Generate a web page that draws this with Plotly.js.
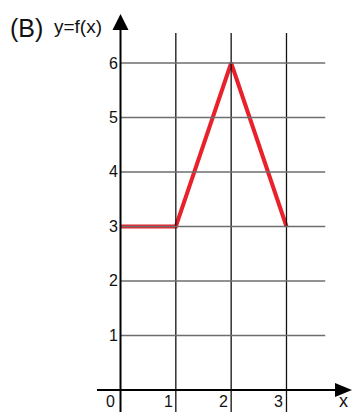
<!DOCTYPE html>
<html>
<head>
<meta charset="utf-8">
<script src="https://cdn.plot.ly/plotly-3.0.1.min.js"></script>
<style>
  body { margin: 0; background: #fff; }
  #chart { width: 352px; height: 412px; }
</style>
</head>
<body>
<div id="chart"></div>
<script>
// function values
const xVals = [0, 1, 2, 3];
const yVals = [3, 3, 6, 3];

// grid / tick labels
const xTicks = [0, 1, 2, 3];
const yTicks = [1, 2, 3, 4, 5, 6];
const xTickText = ['0', '1', '2', '3'];
const yTickText = ['1', '2', '3', '4', '5', '6'];

const gridTop = 6.55, gridRight = 3.70;
const axisLeft = -0.425, axisBottom = -0.41;
const xArrowBase = 3.877, xArrowTip = 4.184;
const yArrowBase = 6.606, yArrowTip = 6.899;

const shapes = [];

// vertical grid lines (black)
xTicks.slice(1).forEach(v => {
  shapes.push({ type: 'line', x0: v, x1: v, y0: axisBottom, y1: gridTop,
    line: { color: '#111', width: 1.3 } });
});
// horizontal grid lines (grey)
yTicks.forEach(v => {
  shapes.push({ type: 'line', x0: 0, x1: gridRight, y0: v, y1: v,
    line: { color: '#6e6e6e', width: 1.5 } });
});
// axes
shapes.push({ type: 'line', x0: axisLeft, x1: xArrowBase, y0: 0, y1: 0,
  line: { color: '#000', width: 2 } });
shapes.push({ type: 'line', x0: 0, x1: 0, y0: axisBottom, y1: yArrowBase,
  line: { color: '#000', width: 2 } });
// arrow heads
const hx = 8 / 55.33, hy = 7 / 54.5;
shapes.push({ type: 'path', fillcolor: '#000', line: { width: 0 },
  path: `M ${-hx} ${yArrowBase} L ${hx} ${yArrowBase} L 0 ${yArrowTip} Z` });
shapes.push({ type: 'path', fillcolor: '#000', line: { width: 0 },
  path: `M ${xArrowBase} ${-hy} L ${xArrowBase} ${hy} L ${xArrowTip} 0 Z` });

const font = { family: 'Liberation Sans, Arial, sans-serif', color: '#111' };
const annotations = [];
xTicks.forEach((v, i) => {
  annotations.push({ x: v, y: -0.211, text: xTickText[i], showarrow: false,
    xanchor: 'right', yanchor: 'middle', xshift: i === 0 ? -4 : -1,
    font: Object.assign({ size: 16 }, font) });
});
yTicks.forEach((v, i) => {
  annotations.push({ x: 0, y: v, text: yTickText[i], showarrow: false,
    xanchor: 'right', yanchor: 'middle', xshift: -1,
    font: Object.assign({ size: 16 }, font) });
});
annotations.push({ x: 26, y: 28, xref: 'paper', yref: 'paper', text: '(B)',
  showarrow: false, font: Object.assign({ size: 25 }, font) });
annotations.push({ x: 78, y: 27, xref: 'paper', yref: 'paper', text: 'y=f(x)',
  showarrow: false, font: Object.assign({ size: 19 }, font) });

// paper coords above are given in pixels; convert
annotations.forEach(a => {
  if (a.xref === 'paper') {
    a.x = a.x / 352; a.y = 1 - a.y / 412;
    a.xanchor = 'center'; a.yanchor = 'middle';
  }
});
// axis name, anchored to the bottom edge so it stays inside the page
annotations.push({ x: 343 / 352, y: 0, xref: 'paper', yref: 'paper', text: 'x',
  showarrow: false, xanchor: 'center', yanchor: 'bottom', borderpad: 0,
  font: Object.assign({ size: 18 }, font) });

const trace = {
  type: 'scatter', mode: 'lines', x: xVals, y: yVals,
  line: { color: '#e8212b', width: 4 }, hoverinfo: 'skip'
};

const layout = {
  width: 352, height: 412,
  margin: { l: 0, r: 0, t: 0, b: 0 },
  paper_bgcolor: '#fff', plot_bgcolor: '#fff',
  showlegend: false,
  xaxis: { range: [-2.178, 4.184], visible: false, fixedrange: true },
  yaxis: { range: [-0.404, 7.156], visible: false, fixedrange: true },
  shapes: shapes,
  annotations: annotations
};

Plotly.newPlot('chart', [trace], layout, { displayModeBar: false, staticPlot: true });
</script>
</body>
</html>
